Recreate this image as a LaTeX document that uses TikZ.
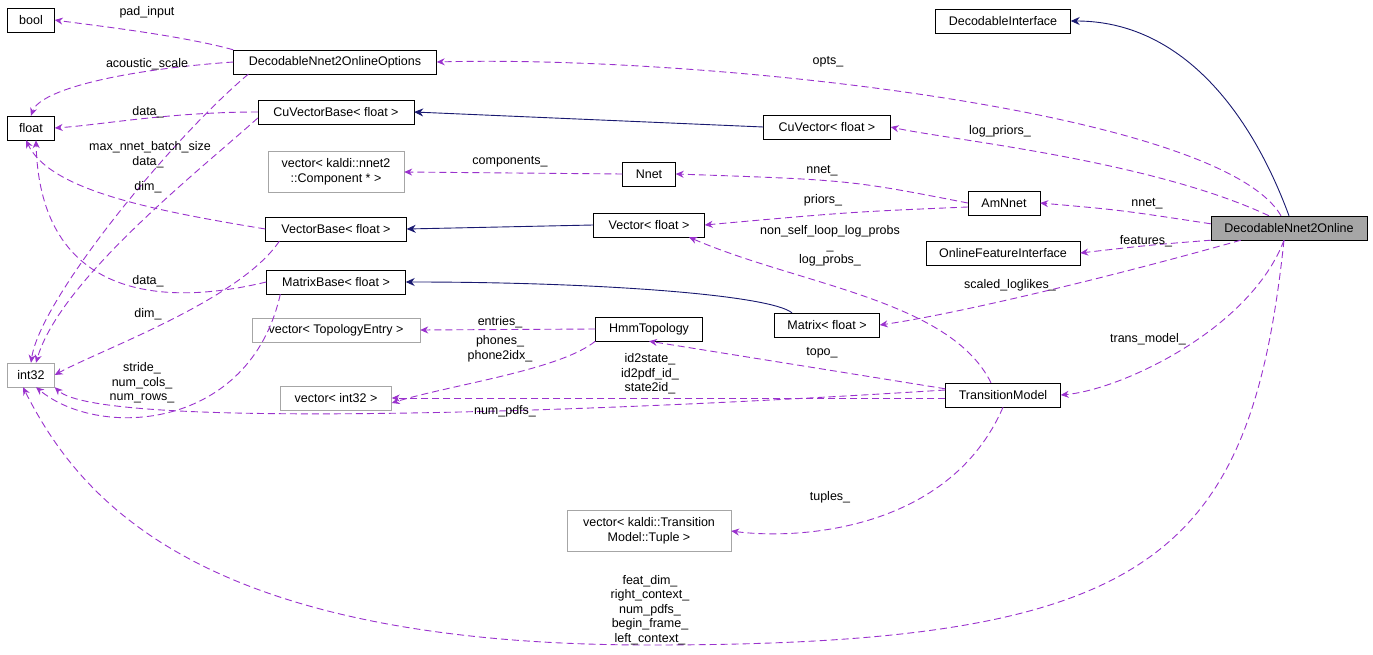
\documentclass[tikz,border=0pt]{standalone}
\usepackage{fontspec}
\setmainfont{Liberation Sans}
\usetikzlibrary{arrows.meta}
\definecolor{usecol}{RGB}{154,50,205}
\definecolor{inhcol}{RGB}{25,25,112}
\tikzset{
  box/.style={draw=black, fill=white, inner sep=2pt, minimum height=24pt, font=\fontsize{12.5}{14.5}\selectfont},
  gbox/.style={box, draw=gray!70},
  lbl/.style={font=\fontsize{12.5}{14.5}\selectfont, align=center, inner sep=0pt},
  use/.style={draw=usecol, line width=0.9pt, dash pattern=on 7pt off 4pt, -{Stealth[length=8pt,width=7pt]}},
  inh/.style={draw=inhcol, line width=0.9pt, -{Stealth[length=9pt,width=8pt]}}
}
\begin{document}
\begin{tikzpicture}[x=1pt,y=-1pt]
\useasboundingbox (0,0) rectangle (1373,655);
% classes
\node[box, minimum width=47pt] (bool) at (31,20) {bool};
\node[box, minimum width=135pt] (decif) at (1003,21) {DecodableInterface};
\node[box, minimum width=203pt] (opts) at (335,62) {DecodableNnet2OnlineOptions};
\node[box, minimum width=47pt] (float) at (31,128) {float};
\node[box, minimum width=156pt] (cuvb) at (336,112) {CuVectorBase\textless{} float \textgreater};
\node[box, minimum width=127pt] (cuv) at (827,127) {CuVector\textless{} float \textgreater};
\node[gbox, minimum width=136pt, minimum height=41pt, align=center] (comp) at (336,172) {vector\textless{} kaldi::nnet2\\::Component * \textgreater};
\node[box, minimum width=53pt] (nnet) at (649,174) {Nnet};
\node[box, minimum width=72pt] (amnnet) at (1004,203) {AmNnet};
\node[box, fill=gray!70, minimum width=156pt] (d2o) at (1289,228) {DecodableNnet2Online};
\node[box, minimum width=141pt] (vb) at (336,229) {VectorBase\textless{} float \textgreater};
\node[box, minimum width=111pt] (vec) at (649,225) {Vector\textless{} float \textgreater};
\node[box, minimum width=154pt] (feat) at (1003,253) {OnlineFeatureInterface};
\node[box, minimum width=139pt] (mb) at (336,282) {MatrixBase\textless{} float \textgreater};
\node[gbox, minimum width=47pt] (int) at (31,375) {int32};
\node[gbox, minimum width=168pt] (topent) at (336,330) {vector\textless{} TopologyEntry \textgreater};
\node[box, minimum width=107pt] (hmm) at (649,329) {HmmTopology};
\node[box, minimum width=105pt] (mat) at (827,325) {Matrix\textless{} float \textgreater};
\node[gbox, minimum width=111pt] (vint) at (336,398) {vector\textless{} int32 \textgreater};
\node[box, minimum width=115pt] (tm) at (1003,395) {TransitionModel};
\node[gbox, minimum width=164pt, minimum height=41pt, align=center] (tup) at (649,531) {vector\textless{} kaldi::Transition\\Model::Tuple \textgreater};
% inheritance
\draw[inh] (d2o.north) .. controls (1250,110) and (1180,21) .. (decif.east);
\draw[inh] (cuv.west) -- (cuvb.east);
\draw[inh] (vec.west) -- (vb.east);
\draw[inh] ([xshift=-35pt]mat.north) .. controls (770,295) and (600,282) .. (mb.east);
% members
\draw[use] (opts.north west) .. controls (180,35) and (90,25) .. (bool.east);
\draw[use] (opts.west) .. controls (120,70) and (40,90) .. (float.north);
\draw[use] ([xshift=15pt]opts.south west) .. controls (170,140) and (40,300) .. (int.north);
\draw[use] (cuvb.west) .. controls (170,112) and (100,125) .. (float.east);
\draw[use] ([yshift=-6pt]cuvb.west) .. controls (200,170) and (60,280) .. ([xshift=5pt]int.north);
\draw[use] (vb.west) .. controls (150,210) and (50,190) .. ([xshift=-5pt]float.south);
\draw[use] ([xshift=14pt]vb.south west) .. controls (240,300) and (100,350) .. (int.east);
\draw[use] (mb.west) .. controls (150,310) and (40,290) .. ([xshift=5pt]float.south);
\draw[use] ([xshift=14pt]mb.south west) .. controls (250,430) and (100,440) .. ([xshift=5pt]int.south);
\draw[use] (nnet.west) -- (comp.east);
\draw[use] (amnnet.west) .. controls (850,180) .. (nnet.east);
\draw[use] ([yshift=-4pt]amnnet.west) .. controls (850,212) .. (vec.east);
\draw[use] (hmm.west) -- (topent.east);
\draw[use] (hmm.south west) .. controls (560,370) and (450,385) .. ([yshift=-5pt]vint.east);
\draw[use] ([yshift=-6pt]tm.north west) .. controls (800,365) .. (hmm.south);
\draw[use] ([yshift=-3pt]tm.west) -- (vint.east);
\draw[use] ([yshift=5pt]tm.west) .. controls (600,412) and (100,430) .. (int.south east);
\draw[use] ([xshift=-12pt]tm.north) .. controls (950,300) and (800,285) .. ([xshift=40pt]vec.south);
\draw[use] (tm.south) .. controls (950,530) and (800,540) .. (tup.east);
\draw[use] ([xshift=-8pt]d2o.north) .. controls (1220,110) and (700,55) .. (opts.east);
\draw[use] ([xshift=-20pt]d2o.north) .. controls (1150,160) and (950,140) .. (cuv.east);
\draw[use] ([yshift=-8pt]d2o.north west) .. controls (1120,210) .. (amnnet.east);
\draw[use] (d2o.south west) .. controls (1150,245) .. (feat.east);
\draw[use] ([xshift=30pt]d2o.south west) .. controls (1100,280) and (950,315) .. (mat.east);
\draw[use] ([xshift=-5pt]d2o.south) .. controls (1250,330) and (1120,390) .. (tm.east);
\draw[use] ([xshift=-5pt]d2o.south) .. controls (1250,560) and (1150,645) .. (650,645)
  .. controls (200,645) and (80,500) .. ([xshift=-8pt]int.south);
% labels
\node[lbl] (l1) at (147,12) {pad\_input};
\node[lbl] (l2) at (147,64) {acoustic\_scale};
\node[lbl] (l3) at (150,147) {max\_nnet\_batch\_size};
\node[lbl] (l4) at (148,112) {data\_};
\node[lbl] (l5) at (148,187) {dim\_};
\node[lbl] (l6) at (148,162) {data\_};
\node[lbl] (l7) at (148,281) {data\_};
\node[lbl] (l8) at (148,314) {dim\_};
\node[lbl] (l9) at (142,383) {stride\_\\num\_cols\_\\num\_rows\_};
\node[lbl] (l10) at (510,162) {components\_};
\node[lbl] (l11) at (822,171) {nnet\_};
\node[lbl] (l12) at (823,200) {priors\_};
\node[lbl] (l13) at (500,322) {entries\_};
\node[lbl] (l14) at (500,349) {phones\_\\phone2idx\_};
\node[lbl] (l15) at (822,353) {topo\_};
\node[lbl] (l16) at (650,374) {id2state\_\\id2pdf\_id\_\\state2id\_};
\node[lbl] (l17) at (505,411) {num\_pdfs\_};
\node[lbl] (l18) at (830,246) {non\_self\_loop\_log\_probs\\\_\\log\_probs\_};
\node[lbl] (l19) at (830,497) {tuples\_};
\node[lbl] (l20) at (828,62) {opts\_};
\node[lbl] (l21) at (1000,131) {log\_priors\_};
\node[lbl] (l22) at (1147,204) {nnet\_};
\node[lbl] (l23) at (1146,241) {features\_};
\node[lbl] (l24) at (1010,285) {scaled\_loglikes\_};
\node[lbl] (l25) at (1148,339) {trans\_model\_};
\node[lbl] (l26) at (650,610) {feat\_dim\_\\right\_context\_\\num\_pdfs\_\\begin\_frame\_\\left\_context\_};
\end{tikzpicture}
\end{document}
